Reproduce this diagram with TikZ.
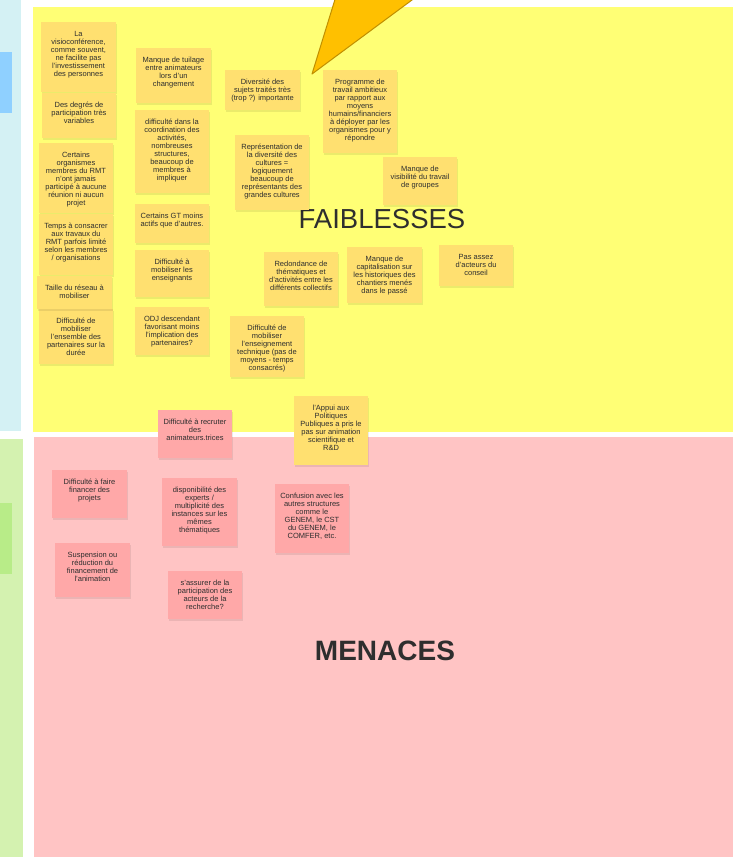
\documentclass[tikz,border=0pt]{standalone}
\usepackage{fontspec}
\setmainfont{Liberation Sans}

\definecolor{cyanzone}{HTML}{D4F1F4}
\definecolor{yelzone}{HTML}{FFFF75}
\definecolor{greenzone}{HTML}{D4F2B0}
\definecolor{pinkzone}{HTML}{FFC4C4}
\definecolor{yelnote}{HTML}{FFE070}
\definecolor{pinknote}{HTML}{FFA8A8}
\definecolor{bluenote}{HTML}{8FD0FF}
\definecolor{greennote}{HTML}{B8EC88}
\definecolor{arrowfill}{HTML}{FFC000}
\definecolor{arrowline}{HTML}{C08F00}
\definecolor{inkgray}{HTML}{2E2E2E}

% sticky note: name, x, y, width, height, colour, text
\newcommand{\sticky}[7]{%
  \fill[black, opacity=0.08] (#2+0.5,#3+1.5) rectangle ++(#4,#5);
  \fill[#6] (#2,#3) rectangle ++(#4,#5);
  \node[notetext] (#1) at (#2+#4/2,#3+9) {#7};
}

\begin{document}
\begin{tikzpicture}[x=1pt, y=-1pt,
    notetext/.style={anchor=north, inner sep=0pt, align=center, text=inkgray,
      font=\fontsize{7.5}{8}\selectfont},
    zonetitle/.style={text=inkgray, inner sep=0pt, font=\fontsize{27.5}{30}\selectfont}]
    \useasboundingbox (0,0) rectangle (733,857);
    \clip (0,0) rectangle (733,857);
    % zones
    \fill[cyanzone] (0,0) rectangle (21,431);
    \fill[yelzone] (33,7) rectangle (733,432);
    \fill[greenzone] (0,439) rectangle (23,857);
    \fill[pinkzone] (34,437) rectangle (733,857);
    \fill[bluenote] (0,52) rectangle (12,113);
    \fill[greennote] (0,503) rectangle (12,574);
    % titles
    \node[zonetitle] (faib) at (382,219) {FAIBLESSES};
    \node[zonetitle, font=\fontsize{28}{30}\selectfont\bfseries] (men) at (385,651) {MENACES};
    % faiblesses
    \sticky{f1}{41}{22}{75}{70}{yelnote}{La\\visioconférence,\\comme souvent,\\ne facilite pas\\l'investissement\\des personnes}
    \sticky{f2}{42}{93}{74}{45}{yelnote}{Des degrés de\\participation très\\variables}
    \sticky{f3}{39}{143}{74}{70}{yelnote}{Certains\\organismes\\membres du RMT\\n'ont jamais\\participé à aucune\\réunion ni aucun\\projet}
    \sticky{f4}{39}{214}{74}{61}{yelnote}{Temps à consacrer\\aux travaux du\\RMT parfois limité\\selon les membres\\/ organisations}
    \sticky{f6}{39}{309}{74}{55}{yelnote}{Difficulté de\\mobiliser\\l'ensemble des\\partenaires sur la\\durée}
    \sticky{f5}{37}{276}{75}{33}{yelnote}{Taille du réseau à\\mobiliser}
    \sticky{f7}{136}{48}{75}{55}{yelnote}{Manque de tuilage\\entre animateurs\\lors d'un\\changement}
    \sticky{f8}{135}{110}{74}{83}{yelnote}{difficulté dans la\\coordination des\\activités,\\nombreuses\\structures,\\beaucoup de\\membres à\\impliquer}
    \sticky{f9}{135}{204}{74}{39}{yelnote}{Certains GT moins\\actifs que d'autres.}
    \sticky{f10}{135}{250}{74}{47}{yelnote}{Difficulté à\\mobiliser les\\enseignants}
    \sticky{f11}{135}{307}{74}{48}{yelnote}{ODJ descendant\\favorisant moins\\l'implication des\\partenaires?}
    \sticky{f12}{225}{70}{75}{40}{yelnote}{Diversité des\\sujets traités très\\(trop ?) importante}
    \sticky{f13}{235}{135}{74}{75}{yelnote}{Représentation de\\la diversité des\\cultures =\\logiquement\\beaucoup de\\représentants des\\grandes cultures}
    \sticky{f14}{323}{70}{74}{83}{yelnote}{Programme de\\travail ambitieux\\par rapport aux\\moyens\\humains/financiers\\à déployer par les\\organismes pour y\\répondre}
    \sticky{f15}{383}{157}{74}{48}{yelnote}{Manque de\\visibilité du travail\\de groupes}
    \sticky{f16}{264}{252}{74}{54}{yelnote}{Redondance de\\thématiques et\\d'activités entre les\\différents collectifs}
    \sticky{f17}{347}{247}{75}{56}{yelnote}{Manque de\\capitalisation sur\\les historiques des\\chantiers menés\\dans le passé}
    \sticky{f18}{439}{245}{74}{41}{yelnote}{Pas assez\\d'acteurs du\\conseil}
    \sticky{f19}{230}{316}{74}{61}{yelnote}{Difficulté de\\mobiliser\\l'enseignement\\technique (pas de\\moyens - temps\\consacrés)}
    % menaces
    \sticky{m1}{158}{410}{74}{48}{pinknote}{Difficulté à recruter\\des\\animateurs.trices}
    \sticky{f20}{294}{396}{74}{69}{yelnote}{l'Appui aux\\Politiques\\Publiques a pris le\\pas sur animation\\scientifique et\\R\&D}
    \sticky{m2}{52}{470}{75}{48}{pinknote}{Difficulté à faire\\financer des\\projets}
    \sticky{m3}{55}{543}{75}{54}{pinknote}{Suspension ou\\réduction du\\financement de\\l'animation}
    \sticky{m4}{162}{478}{75}{68}{pinknote}{disponibilité des\\experts /\\multiplicité des\\instances sur les\\mêmes\\thématiques}
    \sticky{m5}{168}{571}{74}{48}{pinknote}{s'assurer de la\\participation des\\acteurs de la\\recherche?}
    \sticky{m6}{275}{484}{74}{69}{pinknote}{Confusion avec les\\autres structures\\comme le\\GENEM, le CST\\du GENEM, le\\COMFER, etc.}
    % pointer
    \coordinate (tip) at (312,74);
    \filldraw[fill=arrowfill, draw=arrowline, line width=1pt, line join=round]
      (tip) -- (341,-20) -- (439,-20) -- cycle;
\end{tikzpicture}
\end{document}
